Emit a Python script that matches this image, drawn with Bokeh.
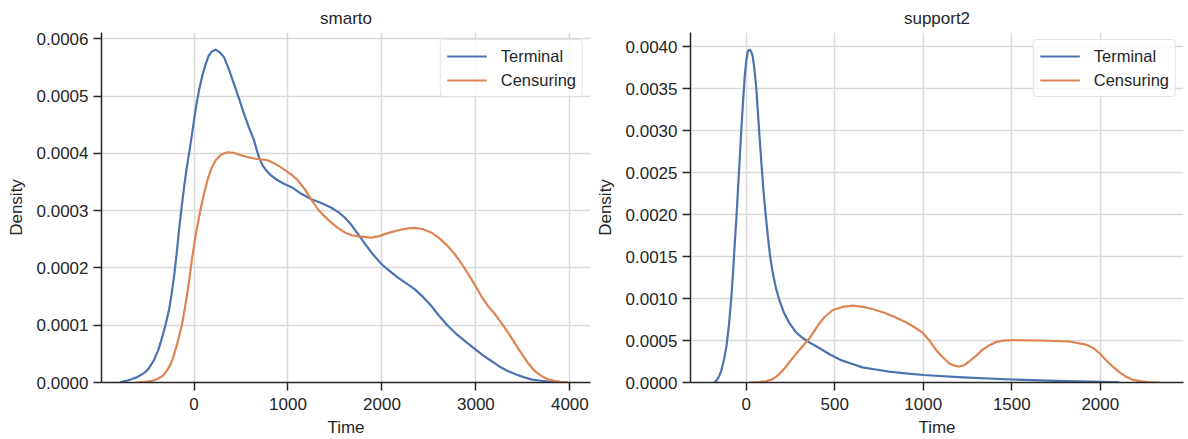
from bokeh.plotting import figure
from bokeh.layouts import row
from bokeh.models import Range1d, FixedTicker, PrintfTickFormatter, Legend, LegendItem
from bokeh.embed import file_html
from bokeh.resources import INLINE

# ---------------- data ----------------
titles = ["smarto", "support2"]
series_names = ["Terminal", "Censuring"]

smarto_terminal_x = [-790, -745, -700, -660, -610, -567, -520, -480, -426, -380, -337, -300, -266, -240, -213, -185,
                     -160, -133, -106, -80, -53, -25, 0, 25, 53, 90, 124, 155, 190, 230, 270, 319, 370, 426, 480,
                     532, 585, 638, 660, 691, 727, 770, 816, 880, 957, 1037, 1135, 1250, 1360, 1462, 1540, 1604,
                     1680, 1745, 1820, 1887, 2000, 2080, 2170, 2260, 2347, 2440, 2524, 2610, 2701, 2790, 2878,
                     2995, 3080, 3161, 3250, 3338, 3430, 3515, 3600, 3692, 3780, 3869, 3980]
smarto_terminal_y = [0.0, 0.02e-4, 0.04e-4, 0.06e-4, 0.09e-4, 0.13e-4, 0.18e-4, 0.25e-4, 0.39e-4, 0.57e-4, 0.80e-4,
                     1.03e-4, 1.27e-4, 1.53e-4, 1.85e-4, 2.25e-4, 2.66e-4, 3.05e-4, 3.41e-4, 3.72e-4, 4.00e-4,
                     4.30e-4, 4.58e-4, 4.85e-4, 5.10e-4, 5.37e-4, 5.56e-4, 5.70e-4, 5.78e-4, 5.81e-4, 5.77e-4,
                     5.68e-4, 5.47e-4, 5.21e-4, 4.95e-4, 4.69e-4, 4.45e-4, 4.23e-4, 4.10e-4, 3.93e-4, 3.80e-4,
                     3.70e-4, 3.62e-4, 3.54e-4, 3.47e-4, 3.41e-4, 3.30e-4, 3.20e-4, 3.13e-4, 3.05e-4, 2.97e-4,
                     2.88e-4, 2.74e-4, 2.59e-4, 2.42e-4, 2.27e-4, 2.06e-4, 1.95e-4, 1.83e-4, 1.73e-4, 1.63e-4,
                     1.49e-4, 1.34e-4, 1.16e-4, 0.99e-4, 0.85e-4, 0.73e-4, 0.58e-4, 0.47e-4, 0.38e-4, 0.28e-4,
                     0.20e-4, 0.14e-4, 0.09e-4, 0.05e-4, 0.03e-4, 0.01e-4, 0.005e-4, 0.0]

smarto_censuring_x = [-620, -520, -440, -390, -330, -284, -255, -230, -205, -177, -150, -130, -110, -89, -70, -50,
                      -18, 15, 53, 95, 142, 185, 230, 290, 355, 420, 496, 560, 638, 700, 780, 850, 922, 1037, 1100,
                      1179, 1250, 1320, 1390, 1462, 1530, 1604, 1680, 1745, 1887, 1960, 2028, 2110, 2205, 2280,
                      2347, 2430, 2524, 2610, 2701, 2770, 2842, 2920, 2995, 3060, 3126, 3200, 3267, 3340, 3409,
                      3480, 3550, 3620, 3692, 3760, 3834, 3900, 3975]
smarto_censuring_y = [0.0, 0.01e-4, 0.03e-4, 0.06e-4, 0.12e-4, 0.22e-4, 0.30e-4, 0.40e-4, 0.53e-4, 0.69e-4, 0.87e-4,
                      1.00e-4, 1.18e-4, 1.38e-4, 1.58e-4, 1.80e-4, 2.20e-4, 2.55e-4, 2.89e-4, 3.22e-4, 3.53e-4,
                      3.74e-4, 3.88e-4, 3.98e-4, 4.02e-4, 4.01e-4, 3.97e-4, 3.94e-4, 3.91e-4, 3.90e-4, 3.88e-4,
                      3.83e-4, 3.76e-4, 3.63e-4, 3.54e-4, 3.37e-4, 3.19e-4, 3.02e-4, 2.90e-4, 2.79e-4, 2.70e-4,
                      2.62e-4, 2.57e-4, 2.55e-4, 2.53e-4, 2.55e-4, 2.59e-4, 2.63e-4, 2.67e-4, 2.69e-4, 2.70e-4,
                      2.68e-4, 2.62e-4, 2.52e-4, 2.38e-4, 2.25e-4, 2.09e-4, 1.89e-4, 1.69e-4, 1.50e-4, 1.34e-4,
                      1.20e-4, 1.05e-4, 0.88e-4, 0.70e-4, 0.52e-4, 0.35e-4, 0.21e-4, 0.12e-4, 0.06e-4, 0.03e-4,
                      0.01e-4, 0.0]

support2_terminal_x = [-178, -170, -160, -150, -140, -126, -112, -98, -84, -75, -66, -56, -47, -37, -28, -18, -9, 0,
                       9, 15, 22, 30, 37, 46, 56, 65, 75, 86, 97, 110, 122, 135, 150, 167, 187, 213, 243, 280, 318,
                       355, 412, 475, 543, 600, 656, 730, 807, 900, 1000, 1222, 1500, 1749, 2000, 2107]
support2_terminal_y = [0.0, 0.02e-3, 0.05e-3, 0.09e-3, 0.15e-3, 0.27e-3, 0.43e-3, 0.68e-3, 1.02e-3, 1.30e-3,
                       1.62e-3, 1.95e-3, 2.29e-3, 2.66e-3, 3.01e-3, 3.35e-3, 3.64e-3, 3.83e-3, 3.94e-3, 3.96e-3,
                       3.96e-3, 3.93e-3, 3.88e-3, 3.73e-3, 3.52e-3, 3.24e-3, 2.93e-3, 2.60e-3, 2.29e-3, 1.99e-3,
                       1.74e-3, 1.50e-3, 1.30e-3, 1.13e-3, 0.98e-3, 0.83e-3, 0.71e-3, 0.60e-3, 0.53e-3, 0.48e-3,
                       0.41e-3, 0.33e-3, 0.26e-3, 0.22e-3, 0.18e-3, 0.155e-3, 0.13e-3, 0.108e-3, 0.089e-3,
                       0.06e-3, 0.036e-3, 0.02e-3, 0.008e-3, 0.003e-3]

support2_censuring_x = [19, 70, 112, 150, 187, 225, 262, 305, 355, 412, 443, 487, 543, 600, 660, 713, 780, 845, 900,
                        939, 996, 1035, 1071, 1110, 1146, 1175, 1203, 1230, 1259, 1300, 1335, 1370, 1410, 1450,
                        1505, 1655, 1825, 1919, 1960, 1994, 2030, 2070, 2110, 2145, 2180, 2221, 2270, 2334]
support2_censuring_y = [0.0, 0.005e-3, 0.015e-3, 0.04e-3, 0.10e-3, 0.19e-3, 0.29e-3, 0.40e-3, 0.52e-3, 0.70e-3,
                        0.78e-3, 0.86e-3, 0.90e-3, 0.915e-3, 0.90e-3, 0.875e-3, 0.83e-3, 0.774e-3, 0.72e-3,
                        0.673e-3, 0.593e-3, 0.50e-3, 0.391e-3, 0.30e-3, 0.23e-3, 0.20e-3, 0.19e-3, 0.205e-3,
                        0.25e-3, 0.32e-3, 0.391e-3, 0.44e-3, 0.48e-3, 0.498e-3, 0.504e-3, 0.50e-3, 0.488e-3,
                        0.452e-3, 0.41e-3, 0.351e-3, 0.27e-3, 0.19e-3, 0.12e-3, 0.069e-3, 0.035e-3, 0.016e-3,
                        0.004e-3, 0.0]

smarto_xticks = [0, 1000, 2000, 3000, 4000]
smarto_yticks = [0.0, 0.0001, 0.0002, 0.0003, 0.0004, 0.0005, 0.0006]
support2_xticks = [0, 500, 1000, 1500, 2000]
support2_yticks = [0.0, 0.0005, 0.0010, 0.0015, 0.0020, 0.0025, 0.0030, 0.0035, 0.0040]

# ---------------- style ----------------
FONT = "Liberation Sans"
TXT = "#262626"
COLORS = ["#4C72B0", "#DD8452"]
GRID = "#d9d9d9"


def make_panel(title, xs, ys, xr, yr, xticks, yticks, width, bl, br):
    p = figure(width=width, height=439, output_backend="svg", toolbar_location=None,
               x_range=Range1d(*xr), y_range=Range1d(*yr),
               min_border_left=bl, min_border_right=br, min_border_top=32, min_border_bottom=56)
    p.title.text = title
    p.title.align = "center"
    p.title.text_font = FONT
    p.title.text_font_size = "17px"
    p.title.text_font_style = "normal"
    p.title.text_color = TXT
    p.title.standoff = 10
    p.outline_line_color = None
    p.background_fill_color = "white"
    p.border_fill_color = "white"

    for ax in (p.xaxis[0], p.yaxis[0]):
        ax.axis_line_color = TXT
        ax.axis_line_width = 1.5
        ax.major_tick_line_color = TXT
        ax.major_tick_line_width = 1.5
        ax.major_tick_out = 8
        ax.major_tick_in = 0
        ax.minor_tick_line_color = None
        ax.major_label_text_font = FONT
        ax.major_label_text_font_size = "17px"
        ax.major_label_text_color = TXT
        ax.axis_label_text_font = FONT
        ax.axis_label_text_font_size = "17px"
        ax.axis_label_text_font_style = "normal"
        ax.axis_label_text_color = TXT
    p.xaxis[0].ticker = FixedTicker(ticks=xticks, minor_ticks=[])
    p.yaxis[0].ticker = FixedTicker(ticks=yticks, minor_ticks=[])
    p.yaxis[0].formatter = PrintfTickFormatter(format="%.4f")
    p.xaxis[0].axis_label = "Time"
    p.yaxis[0].axis_label = "Density"
    p.xaxis[0].major_label_standoff = 7
    p.yaxis[0].major_label_standoff = 5
    p.xaxis[0].axis_label_standoff = 5
    p.yaxis[0].axis_label_standoff = 8

    p.xgrid.ticker = FixedTicker(ticks=xticks)
    p.ygrid.ticker = FixedTicker(ticks=yticks)
    for g in (p.xgrid[0], p.ygrid[0]):
        g.grid_line_color = GRID
        g.grid_line_width = 1.5

    items = []
    for name, x, y, c in zip(series_names, xs, ys, COLORS):
        r = p.line(x, y, line_color=c, line_width=2.2, line_join="round")
        items.append(LegendItem(label=name, renderers=[r]))

    leg = Legend(items=items, location="top_right")
    leg.margin = 7
    leg.padding = 6
    leg.spacing = 4
    leg.glyph_width = 40
    leg.glyph_height = 20
    leg.label_height = 20
    leg.label_standoff = 14
    leg.label_text_font = FONT
    leg.label_text_font_size = "16.5px"
    leg.label_text_color = TXT
    leg.border_line_color = "#cccccc"
    leg.border_line_width = 1
    leg.background_fill_color = "white"
    leg.background_fill_alpha = 0.8
    if "border_radius" in Legend.properties():
        leg.border_radius = 4
    p.add_layout(leg, "center")
    return p


p1 = make_panel(titles[0], [smarto_terminal_x, smarto_censuring_x], [smarto_terminal_y, smarto_censuring_y],
                (-985, 4220), (0, 0.000611), smarto_xticks, smarto_yticks, 592, 101, 2)
p2 = make_panel(titles[1], [support2_terminal_x, support2_censuring_x], [support2_terminal_y, support2_censuring_y],
                (-315, 2470), (0, 0.004168), support2_xticks, support2_yticks, 596, 94, 5)

layout = row(p1, p2)
open("out.html", "w").write(file_html(layout, INLINE))
